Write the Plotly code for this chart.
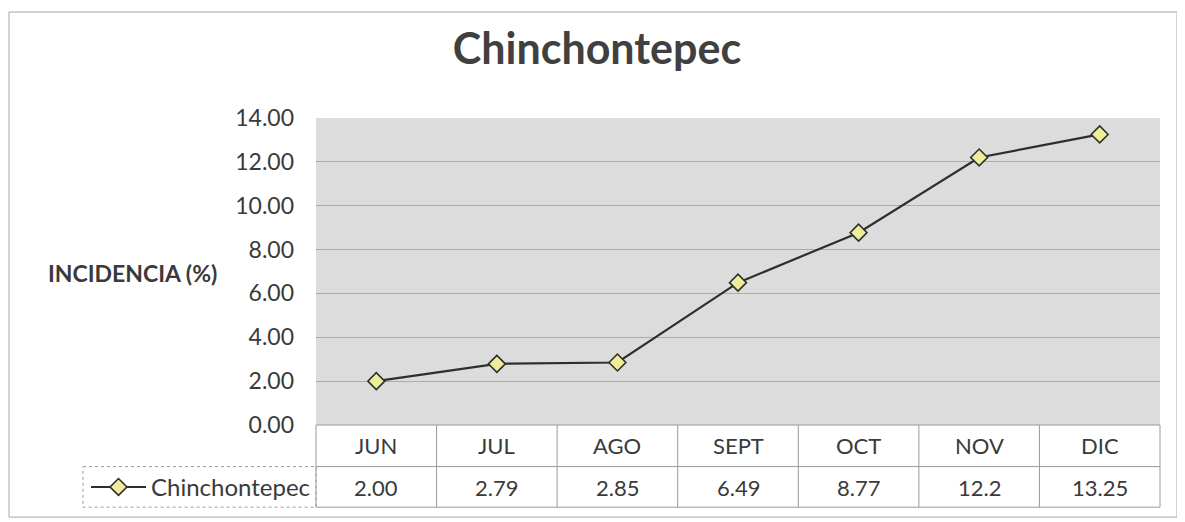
import plotly.graph_objects as go

months = ["JUN", "JUL", "AGO", "SEPT", "OCT", "NOV", "DIC"]
values = [2.00, 2.79, 2.85, 6.49, 8.77, 12.2, 13.25]
value_labels = ["2.00", "2.79", "2.85", "6.49", "8.77", "12.2", "13.25"]
y_ticks = [0, 2, 4, 6, 8, 10, 12, 14]
series_name = "Chinchontepec"
title_text = "Chinchontepec"
y_title = "INCIDENCIA (%)"

OFF = 8  # page body margin
W, H = 1177, 514
ML, MT, PW, PH = 308, 110, 844, 310
MR, MB = W - ML - PW, H - MT - PH

def px(s):
    return (s - OFF - ML) / PW

def py(s):
    return (MT + PH - (s - OFF)) / PH

FONT = "Lato"
TXT = "#3a3a3a"
n = len(months)

fig = go.Figure()
fig.add_trace(go.Scatter(
    x=list(range(n)), y=values, mode="lines+markers", name=series_name,
    line=dict(color="#2e2e2e", width=2.2),
    marker=dict(symbol="diamond", size=13, color="#eeee9a",
                line=dict(color="#2e2e2e", width=1.6)),
))

shapes = []
line_style = dict(color="#9a9a9a", width=1)
row_top, row_mid, row_bot = py(428), py(470), py(511)
shapes.append(dict(type="line", xref="paper", yref="paper", x0=0, x1=1, y0=row_top, y1=row_top, line=line_style))
shapes.append(dict(type="line", xref="paper", yref="paper", x0=0, x1=1, y0=row_mid, y1=row_mid, line=line_style))
shapes.append(dict(type="line", xref="paper", yref="paper", x0=0, x1=1, y0=row_bot, y1=row_bot, line=line_style))
for k in range(n + 1):
    xx = k / n
    shapes.append(dict(type="line", xref="paper", yref="paper", x0=xx, x1=xx, y0=row_top, y1=row_bot, line=line_style))
# dotted legend box
shapes.append(dict(type="rect", xref="paper", yref="paper", x0=px(83), x1=0, y0=row_mid, y1=row_bot,
                   line=dict(color="#9a9a9a", width=1, dash="dot")))
# outer chart border
shapes.append(dict(type="rect", xref="paper", yref="paper", x0=px(9), x1=px(1177), y0=py(11), y1=py(521),
                   line=dict(color="#a8a8a8", width=1)))

annotations = []
for i, m in enumerate(months):
    annotations.append(dict(x=i, y=py(449), xref="x", yref="paper", text=m, showarrow=False,
                            font=dict(family=FONT, size=22, color=TXT), xanchor="center", yanchor="middle"))
    annotations.append(dict(x=i, y=py(491), xref="x", yref="paper", text=value_labels[i], showarrow=False,
                            font=dict(family=FONT, size=22, color=TXT), xanchor="center", yanchor="middle"))
annotations.append(dict(x=px(132), y=py(275), xref="paper", yref="paper", text="<b>" + y_title + "</b>",
                        showarrow=False, font=dict(family=FONT, size=23, color=TXT),
                        xanchor="center", yanchor="middle"))

fig.update_layout(
    width=W, height=H,
    margin=dict(l=ML, r=MR, t=MT, b=MB),
    paper_bgcolor="white", plot_bgcolor="#dcdcdc",
    title=dict(text="<b>" + title_text + "</b>", x=px(597), xanchor="center", y=1 - (49 - OFF) / H,
               yanchor="middle", xref="paper", font=dict(family=FONT, size=43, color="#404040")),
    xaxis=dict(range=[-0.5, n - 0.5], showticklabels=False, showgrid=False, zeroline=False,
               ticks="", fixedrange=True),
    yaxis=dict(range=[0, 14], tickvals=y_ticks, tickformat=".2f", showgrid=True, gridcolor="#acacac",
               gridwidth=1, zeroline=False, ticks="", ticklabelstandoff=21,
               tickfont=dict(family=FONT, size=23, color=TXT)),
    showlegend=True,
    legend=dict(x=px(86), y=py(491), xanchor="left", yanchor="middle", bgcolor="rgba(0,0,0,0)",
                font=dict(family=FONT, size=24, color=TXT), itemwidth=55),
    shapes=shapes, annotations=annotations,
)

fig.write_html("out.html")
